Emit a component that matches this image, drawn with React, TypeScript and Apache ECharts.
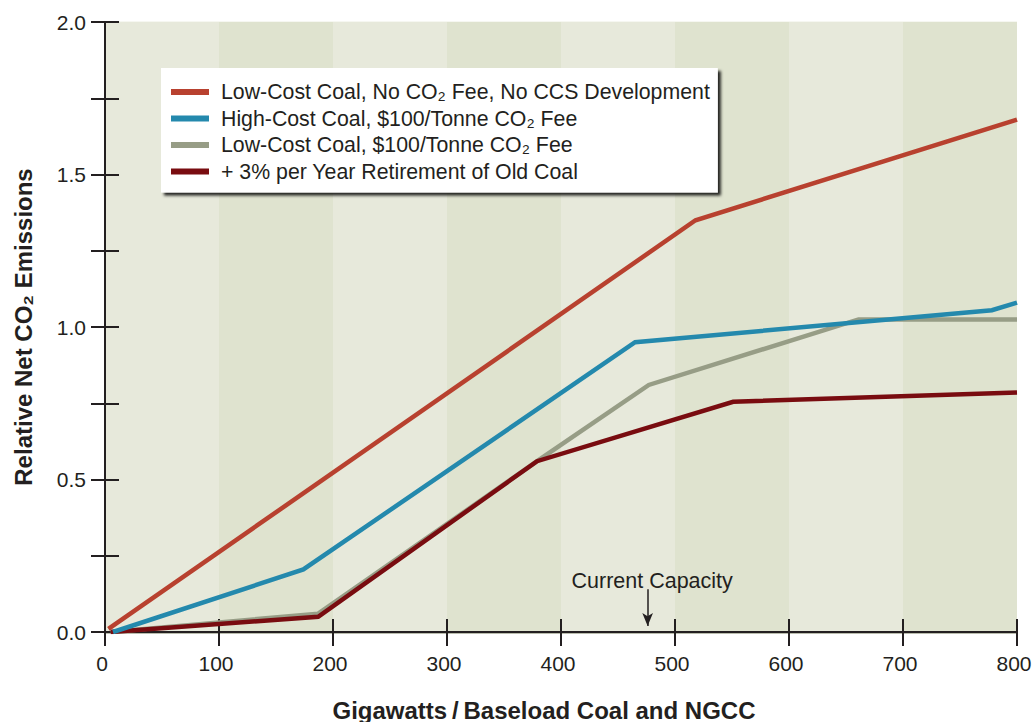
import React, { useEffect, useRef } from "react";
import * as echarts from "echarts";

const seriesNames = [
  "Low-Cost Coal, No CO₂ Fee, No CCS Development",
  "High-Cost Coal, $100/Tonne CO₂ Fee",
  "Low-Cost Coal, $100/Tonne CO₂ Fee",
  "+ 3% per Year Retirement of Old Coal",
];
const seriesColors = ["#b8412f", "#2489ad", "#979d86", "#790c10"];

const redData: [number, number][] = [[3, 0.01], [518, 1.35], [800, 1.68]];
const blueData: [number, number][] = [[7, 0.0], [174, 0.205], [465, 0.95], [778, 1.055], [800, 1.08]];
const grayData: [number, number][] = [[5, 0.0], [187, 0.06], [379, 0.56], [477, 0.81], [661, 1.025], [800, 1.025]];
const darkRedData: [number, number][] = [[5, 0.0], [187, 0.05], [379, 0.56], [551, 0.755], [800, 0.785]];

const currentCapacity = 476;
const xTicks = { min: 0, max: 800, interval: 100 };
const yTicks = { min: 0, max: 2, interval: 0.25 };

const FONT = "'Liberation Sans', Arial, Helvetica, sans-serif";
const INK = "#231f20";

export default function App() {
  const ref = useRef<HTMLDivElement>(null);
  useEffect(() => {
    const chart = echarts.init(ref.current!, null, { renderer: "svg" });
    const lineSeries = (name: string, data: [number, number][], color: string) => ({
      name,
      type: "line",
      data,
      symbol: "none",
      xAxisIndex: 0,
      yAxisIndex: 0,
      lineStyle: { color, width: 4.5, join: "miter" },
      itemStyle: { color },
      clip: true,
    });
    const grayLines: string[] = [];
    for (let i = 0; i < 8; i++) grayLines.push("#a4a896");
    grayLines.push("rgba(0,0,0,0)");
    const option: any = {
      animation: false,
      textStyle: { fontFamily: FONT },
      grid: {
        left: 105,
        right: 16,
        top: 22,
        bottom: 90,
        containLabel: false,
        outerBoundsMode: "none",
      },
      xAxis: [
        {
          type: "value",
          min: xTicks.min,
          max: xTicks.max,
          interval: xTicks.interval,
          name: "Gigawatts\u2009/\u2009Baseload Coal and NGCC",
          nameLocation: "middle",
          nameGap: 66,
          nameTextStyle: {
            fontSize: 24,
            fontWeight: "bold",
            color: INK,
            fontFamily: FONT,
            padding: [0, 34, 0, 0],
          },
          axisLine: { show: true, onZero: false, lineStyle: { color: INK, width: 2 } },
          axisTick: { show: true, length: 14, lineStyle: { color: INK, width: 2 } },
          axisLabel: {
            fontSize: 21,
            color: INK,
            margin: 21,
            fontFamily: FONT,
            padding: [0, 6, 0, 0],
          },
          splitLine: { show: false },
          splitArea: { show: true, areaStyle: { color: ["#e7e9db", "#dfe3cf"] } },
          z: 3,
        },
        {
          type: "value",
          min: xTicks.min,
          max: xTicks.max,
          interval: xTicks.interval,
          position: "bottom",
          axisLine: { show: false },
          axisTick: { show: true, inside: true, length: 13, lineStyle: { color: INK, width: 2 } },
          axisLabel: { show: false },
          splitLine: { show: false },
          z: 3,
        },
      ],
      yAxis: [
        {
          type: "value",
          min: yTicks.min,
          max: yTicks.max,
          interval: yTicks.interval,
          name: "Relative Net CO₂ Emissions",
          nameLocation: "middle",
          nameGap: 70,
          nameTextStyle: { fontSize: 24, fontWeight: "bold", color: INK, fontFamily: FONT },
          axisLine: { show: true, onZero: false, lineStyle: { color: INK, width: 2 } },
          axisTick: { show: true, length: 14, lineStyle: { color: INK, width: 2 } },
          axisLabel: {
            fontSize: 21,
            color: INK,
            margin: 19,
            fontFamily: FONT,
            formatter: (v: number) => (Math.abs(v * 2 - Math.round(v * 2)) < 1e-6 ? v.toFixed(1) : ""),
          },
          splitLine: { show: true, lineStyle: { color: grayLines, width: 2.5 } },
          z: 3,
        },
        {
          type: "value",
          min: yTicks.min,
          max: yTicks.max,
          interval: yTicks.interval,
          position: "left",
          axisLine: { show: false },
          axisTick: { show: true, inside: true, length: 14, lineStyle: { color: INK, width: 2 } },
          axisLabel: { show: false },
          splitLine: { show: false },
          z: 3,
        },
        {
          type: "value",
          min: -0.0085,
          max: 1.9915,
          interval: 0.25,
          position: "left",
          axisLine: { show: false },
          axisTick: { show: false },
          axisLabel: { show: false },
          splitLine: { show: true, lineStyle: { color: "#f3f4ec", width: 2.5 } },
        },
      ],
      legend: {
        data: seriesNames,
        orient: "vertical",
        left: 161,
        top: 68,
        padding: [13, 8, 10, 10],
        itemGap: 4.5,
        itemWidth: 38,
        itemHeight: 6,
        icon: "rect",
        backgroundColor: "#ffffff",
        shadowColor: "rgba(0,0,0,0.85)",
        shadowBlur: 3,
        shadowOffsetX: 3,
        shadowOffsetY: 3,
        selectedMode: false,
        textStyle: {
          fontSize: 21.3,
          color: INK,
          fontFamily: FONT,
          lineHeight: 22,
          padding: [0, 0, 0, 7],
        },
      },
      series: [
        {
          ...lineSeries(seriesNames[2], grayData, seriesColors[2]),
          markLine: {
            silent: true,
            symbol: ["none", "arrow"],
            symbolSize: [8, 13],
            lineStyle: { color: INK, width: 1.5, type: "solid" },
            label: {
              show: true,
              position: "start",
              formatter: "Current Capacity",
              fontSize: 21.5,
              color: INK,
              fontFamily: FONT,
              distance: -3,
              padding: [0, 0, 0, 9],
            },
            data: [[{ coord: [currentCapacity, 0.14] }, { coord: [currentCapacity, 0.02] }]],
          },
        },
        lineSeries(seriesNames[3], darkRedData, seriesColors[3]),
        lineSeries(seriesNames[1], blueData, seriesColors[1]),
        lineSeries(seriesNames[0], redData, seriesColors[0]),
      ],
    };
    chart.setOption(option);
    return () => chart.dispose();
  }, []);
  return (
    <div
      ref={ref}
      style={{ position: "fixed", left: 0, top: 0, width: 1033, height: 722, background: "#ffffff" }}
    />
  );
}
